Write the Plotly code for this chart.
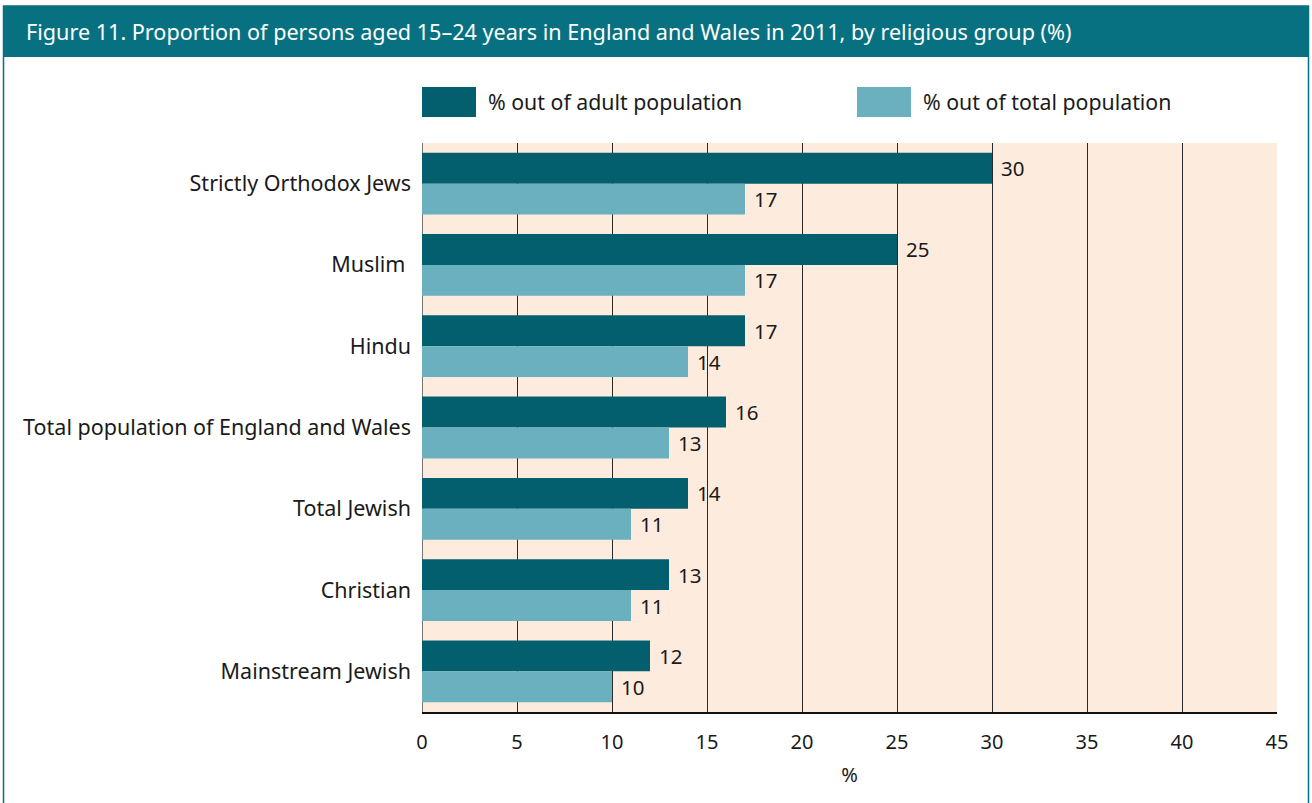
import plotly.graph_objects as go

# Religious groups, top to bottom
groups = [
    "Strictly Orthodox Jews",
    "Muslim ",
    "Hindu",
    "Total population of England and Wales",
    "Total Jewish",
    "Christian",
    "Mainstream Jewish",
]
adult_pct = [30, 25, 17, 16, 14, 13, 12]
total_pct = [17, 17, 14, 13, 11, 11, 10]
series_names = ["% out of adult population", "% out of total population"]
x_ticks = [0, 5, 10, 15, 20, 25, 30, 35, 40, 45]

DARK = "#035f6d"
LIGHT = "#6ab0be"
PEACH = "#fdecdd"
BAR_TEAL = "#077181"
FONT = "Noto Sans"
TEXT = "#1a1a1a"

W, H = 1312, 803
L, R, T, B = 422, 35, 143, 91
PW, PH = W - L - R, H - T - B


def px(x):
    return (x - L) / PW


def py(y):
    return (H - B - y) / PH


fig = go.Figure()
fig.add_trace(go.Bar(y=groups, x=adult_pct, orientation="h", marker_color=DARK,
                     marker_line_width=0, name=series_names[0], showlegend=False))
fig.add_trace(go.Bar(y=groups, x=total_pct, orientation="h", marker_color=LIGHT,
                     marker_line_width=0, name=series_names[1], showlegend=False))

# value labels just beyond each bar end
annotations = []
for i, g in enumerate(groups):
    for vals, off in ((adult_pct, -0.19), (total_pct, 0.19)):
        annotations.append(dict(x=vals[i], y=i + off, xref="x", yref="y",
                                text=str(vals[i]), showarrow=False, xanchor="left",
                                xshift=7, font=dict(size=20.5, color=TEXT, family=FONT)))

shapes = [
    # outer frame
    dict(type="rect", xref="paper", yref="paper", x0=px(3.5), x1=px(1308.5),
         y0=py(810), y1=py(6), line=dict(color=BAR_TEAL, width=1.5), layer="below"),
    # title band
    dict(type="rect", xref="paper", yref="paper", x0=px(3), x1=px(1309),
         y0=py(57), y1=py(6), fillcolor=BAR_TEAL, line_width=0, layer="below"),
]

# legend swatches
legend_items = [(series_names[0], DARK, 422), (series_names[1], LIGHT, 857)]
for name, col, x0 in legend_items:
    shapes.append(dict(type="rect", xref="paper", yref="paper", x0=px(x0), x1=px(x0 + 54),
                       y0=py(117), y1=py(87), fillcolor=col, line_width=0))
    annotations.append(dict(x=px(x0 + 64), y=py(102), xref="paper", yref="paper",
                            text=name, showarrow=False, xanchor="left", yanchor="middle",
                            font=dict(size=21.3, color=TEXT, family=FONT)))

annotations.append(dict(x=px(24), y=py(32), xref="paper", yref="paper",
                        text="Figure 11. Proportion of persons aged 15\u201324 years in England and Wales in 2011, by religious group (%)",
                        showarrow=False, xanchor="left", yanchor="middle",
                        font=dict(size=21.6, color="white", family=FONT)))

fig.update_layout(
    width=W, height=H,
    margin=dict(l=L, r=R, t=T, b=B),
    paper_bgcolor="white",
    plot_bgcolor=PEACH,
    barmode="group",
    bargap=0.24,
    bargroupgap=0,
    font=dict(family=FONT, color=TEXT),
    shapes=shapes,
    annotations=annotations,
)
fig.update_xaxes(
    range=[0, 45], tickvals=x_ticks, ticks="", showgrid=True, gridcolor="#2a2a2a",
    gridwidth=1, zeroline=True, zerolinecolor="#777777", zerolinewidth=1,
    showline=True, linecolor="#111111", linewidth=1.5,
    tickfont=dict(size=20, color=TEXT), ticklabelstandoff=11,
    title=dict(text="%", font=dict(size=20, color=TEXT), standoff=14),
    fixedrange=True,
)
fig.update_yaxes(
    autorange="reversed", ticks="", showgrid=False, showline=False,
    tickfont=dict(size=21.5, color=TEXT), ticklabelstandoff=10, fixedrange=True,
)

fig.write_html("out.html")
